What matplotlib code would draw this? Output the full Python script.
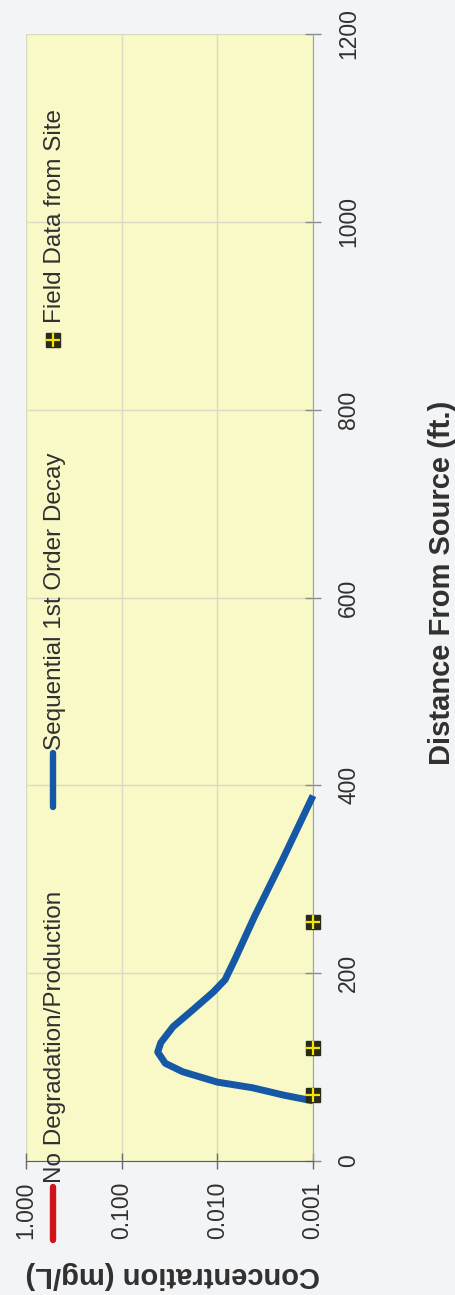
import matplotlib
matplotlib.use("Agg")
import matplotlib.pyplot as plt
from matplotlib.lines import Line2D
from matplotlib.ticker import FixedLocator, NullLocator, FixedFormatter

plt.rcParams['font.family'] = ['Liberation Sans', 'DejaVu Sans']

# ---- data ----
conc_ticks = [1.0, 0.1, 0.01, 0.001]
conc_tick_labels = ['1.000', '0.100', '0.010', '0.001']
dist_ticks = [0, 200, 400, 600, 800, 1000, 1200]

# Sequential 1st Order Decay (distance ft, concentration mg/L)
seq_dist = [64, 70, 78, 84, 95, 104, 116, 126, 143, 161, 180, 193, 214,
            260, 320, 389]
seq_conc = [0.001, 0.0020, 0.0043, 0.010, 0.023, 0.035, 0.042, 0.039, 0.029,
            0.018, 0.011, 0.0083, 0.0066, 0.0041, 0.0021, 0.001]

# Field Data from Site
field_dist = [70, 120, 255]
field_conc = [0.001, 0.001, 0.001]

legend_labels = ['No Degradation/Production', 'Sequential 1st Order Decay',
                 'Field Data from Site']

W, H = 456, 1295
BG = '#F3F4F6'
PLOT_BG = '#F9F9C8'
TXT = '#303030'
BLUE = '#1558A6'
RED = '#D0141A'

fig = plt.figure(figsize=(W / 100, H / 100), dpi=100, facecolor=BG)
ax = fig.add_axes([26 / W, 134 / H, 287 / W, 1127 / H])
ax.set_facecolor(PLOT_BG)

ax.set_xscale('log')
ax.set_xlim(1.0, 0.001)
ax.set_ylim(0, 1200)

ax.xaxis.set_major_locator(FixedLocator(conc_ticks))
ax.xaxis.set_minor_locator(NullLocator())
ax.xaxis.set_major_formatter(FixedFormatter(conc_tick_labels))
ax.yaxis.set_major_locator(FixedLocator(dist_ticks))
ax.yaxis.tick_right()

ax.grid(True, which='major', color='#DADAC4', lw=1.0)
ax.set_axisbelow(True)

for s in ['top', 'left']:
    ax.spines[s].set_visible(False)
ax.spines['right'].set_color('#A0A0A0')
ax.spines['bottom'].set_color('#5E5E5E')

ax.tick_params(axis='x', direction='inout', length=11, width=1.0,
               color='#6A6A6A', labelsize=16.5, labelcolor=TXT, pad=9)
ax.tick_params(axis='y', direction='inout', length=11, width=1.0,
               color='#8A8A8A', labelsize=16.5, labelcolor=TXT, pad=12)
plt.setp(ax.get_xticklabels(), rotation=90)
plt.setp(ax.get_yticklabels(), rotation=90, va='center')

# series
ax.plot(seq_conc, seq_dist, color=BLUE, lw=5.0, solid_capstyle='butt',
        solid_joinstyle='round', clip_on=False, zorder=3)
ax.plot(field_conc, field_dist, ls='none', marker='s', ms=9.5,
        color='#2A2A1C', clip_on=False, zorder=4)
ax.plot(field_conc, field_dist, ls='none', marker='+', ms=9.5, mew=1.6,
        color='#F2E600', clip_on=False, zorder=5)

# axis titles (rotated chart)
fig.text(173 / W, 1 - 1275 / H, 'Concentration (mg/L)', rotation=180,
         ha='center', va='center', fontsize=21, fontweight='bold', color=TXT)
fig.text(442 / W, 1 - 583 / H, 'Distance From Source (ft.)', rotation=90,
         ha='center', va='center', fontsize=21, fontweight='bold', color=TXT)

# legend (rotated)
fx = 53 / W
fig.add_artist(Line2D([fx, fx], [1 - 1240 / H, 1 - 1187 / H], color=RED,
                      lw=4.6, solid_capstyle='round'))
fig.text(55 / W, 1 - 1183 / H, legend_labels[0], rotation=90, ha='center',
         va='bottom', fontsize=17.5, color=TXT)
fig.add_artist(Line2D([fx, fx], [1 - 807 / H, 1 - 753 / H], color=BLUE,
                      lw=4.6, solid_capstyle='round'))
fig.text(55 / W, 1 - 750 / H, legend_labels[1], rotation=90, ha='center',
         va='bottom', fontsize=17.5, color=TXT)
fig.add_artist(Line2D([fx], [1 - 340 / H], ls='none', marker='s', ms=9.5,
                      color='#2A2A1C'))
fig.add_artist(Line2D([fx], [1 - 340 / H], ls='none', marker='+', ms=9.5,
                      mew=1.6, color='#F2E600'))
fig.text(55 / W, 1 - 323 / H, legend_labels[2], rotation=90, ha='center',
         va='bottom', fontsize=17.5, color=TXT)

fig.savefig('out.png', dpi=100, facecolor=BG)
